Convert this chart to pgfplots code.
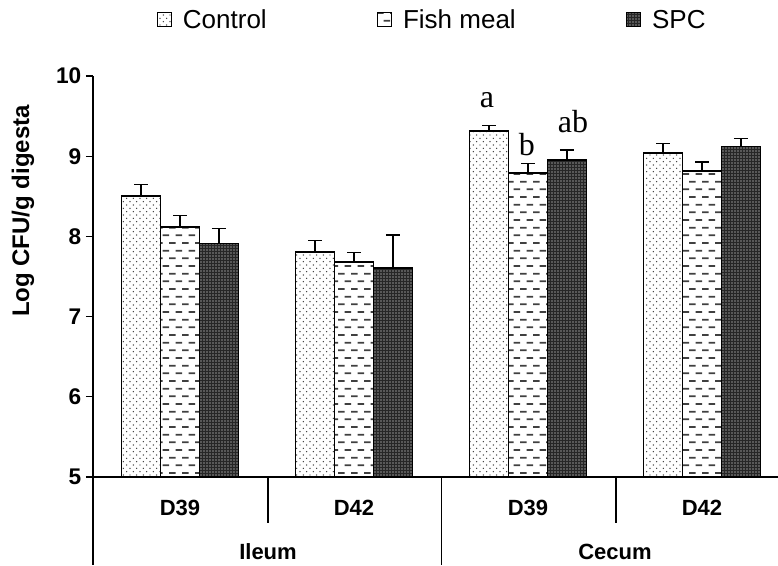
\documentclass[border=0pt]{standalone}
\usepackage{pgfplots}
\pgfplotsset{compat=1.18}
\usepackage{fontspec}
\setmainfont{Liberation Sans}
\newfontfamily\timesfont{Liberation Serif}
\usetikzlibrary{patterns}

\pgfdeclarepatternformonly{ctrldots}{\pgfqpoint{-1pt}{-1pt}}{\pgfqpoint{6pt}{6pt}}{\pgfqpoint{5pt}{5pt}}{%
  \pgfpathcircle{\pgfqpoint{0pt}{0pt}}{0.55pt}%
  \pgfpathcircle{\pgfqpoint{2.5pt}{2.5pt}}{0.55pt}%
  \pgfusepath{fill}}
\pgfdeclarepatternformonly{fishdash}{\pgfqpoint{-1pt}{-1pt}}{\pgfqpoint{10.75pt}{12.5pt}}{\pgfqpoint{9.75pt}{11.5pt}}{%
  \pgfpathrectangle{\pgfqpoint{0pt}{-0.65pt}}{\pgfqpoint{5pt}{1.3pt}}%
  \pgfpathrectangle{\pgfqpoint{4.875pt}{5.1pt}}{\pgfqpoint{5pt}{1.3pt}}%
  \pgfusepath{fill}}
\pgfdeclarepatternformonly{spcdots}{\pgfqpoint{-1pt}{-1pt}}{\pgfqpoint{3.25pt}{3.25pt}}{\pgfqpoint{2.25pt}{2.25pt}}{%
  \pgfpathcircle{\pgfqpoint{0pt}{0pt}}{0.5pt}%
  \pgfusepath{fill}}

\pgfplotstableread{
x   y     e
0   8.50  0.15
1   7.81  0.14
2   9.31  0.07
3   9.04  0.12
}\ctrl
\pgfplotstableread{
x   y     e
0   8.12  0.14
1   7.68  0.12
2   8.79  0.12
3   8.82  0.11
}\fish
\pgfplotstableread{
x   y     e
0   7.91  0.19
1   7.61  0.41
2   8.95  0.13
3   9.12  0.10
}\spc

\begin{document}
\begin{tikzpicture}
\useasboundingbox (-69.75pt,-66pt) rectangle (513.75pt,357.75pt);
\begin{axis}[
  at={(0pt,0pt)}, anchor=south west,
  scale only axis,
  width=513.75pt, height=300.75pt,
  xmin=-0.5, xmax=3.4368, ymin=5, ymax=10,
  axis x line*=bottom, axis y line*=left,
  axis line style={line width=0.8pt},
  ytick={5,6,7,8,9,10},
  xtick={0,1,2,3},
  xticklabels={D39,D42,D39,D42},
  x tick style={draw=none},
  y tick style={line width=0.8pt, black},
  tick align=outside,
  major tick length=5.25pt,
  /pgf/number format/assume math mode=true,
  yticklabel style={font=\fontsize{17}{20}\selectfont\bfseries},
  xticklabel style={font=\fontsize{16.5}{19}\selectfont\bfseries, anchor=center, yshift=-18pt},
  ybar, bar width=0.2241,
  clip=false,
  legend columns=3,
  legend style={draw=none, fill=none, at={(0.0876,1.1397)}, anchor=west,
    font=\fontsize{19.5}{22}\selectfont,
    /tikz/every odd column/.append style={column sep=6pt},
    /tikz/every even column/.append style={column sep=81pt}},
  legend image code/.code={\draw[#1, line width=0.75pt] (0pt,-5.25pt) rectangle (10.5pt,5.25pt);},
  error bars/y dir=plus, error bars/y explicit,
  error bars/error mark=|,
  error bars/error mark options={mark size=5.25pt, line width=1.1pt, black},
  error bars/error bar style={line width=1.1pt, black},
]
\addplot+[bar shift=-0.2241, draw=black, line width=1.3pt, fill=white, postaction={pattern=ctrldots, pattern color=black!80}]
  table[x=x, y=y, y error=e] {\ctrl};
\addplot+[bar shift=0, draw=black, line width=1.3pt, fill=white, postaction={pattern=fishdash, pattern color=black!75}]
  table[x=x, y=y, y error=e] {\fish};
\addplot+[bar shift=0.2241, draw=black, line width=1.3pt, fill=black!85, postaction={pattern=spcdots, pattern color=white}]
  table[x=x, y=y, y error=e] {\spc};
\legend{Control, Fish meal, SPC}
\node[font=\timesfont\fontsize{24}{28}\selectfont, anchor=base] at (axis cs:1.764,9.613) {a};
\node[font=\timesfont\fontsize{24}{28}\selectfont, anchor=base] at (axis cs:1.994,9.015) {b};
\node[font=\timesfont\fontsize{24}{28}\selectfont, anchor=base] at (axis cs:2.259,9.30) {ab};
\end{axis}
\draw[line width=0.8pt] (0pt,0pt) -- (0pt,-66pt);
\draw[line width=0.8pt] (131.25pt,0pt) -- (131.25pt,-34.5pt);
\draw[line width=0.8pt] (261.4pt,0pt) -- (261.4pt,-66pt);
\draw[line width=0.8pt] (392.25pt,0pt) -- (392.25pt,-34.5pt);
\node[font=\fontsize{16.5}{19}\selectfont\bfseries] at (131.25pt,-56.25pt) {Ileum};
\node[font=\fontsize{16.5}{19}\selectfont\bfseries] at (391.5pt,-56.25pt) {Cecum};
\node[font=\fontsize{18}{21}\selectfont\bfseries, rotate=90] at (-52.5pt,199.5pt) {Log CFU/g digesta};
\end{tikzpicture}
\end{document}
